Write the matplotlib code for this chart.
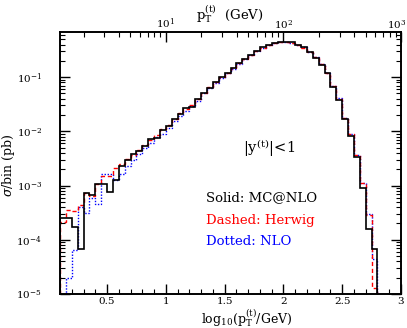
import numpy as np
import matplotlib
matplotlib.use('Agg')
import matplotlib.pyplot as plt
import matplotlib.transforms as mtransforms
from matplotlib.ticker import MultipleLocator, LogLocator, NullFormatter

plt.rcParams['font.family'] = ['DejaVu Serif']
plt.rcParams['mathtext.fontset'] = 'dejavuserif'

# bin edges in log10(pT/GeV)
edges = np.arange(0.10, 2.8001, 0.05)

mcatnlo = [2.5e-4, 2.5e-4, 1.75e-4, 6.9e-5, 7.2e-4, 6.7e-4, 1.05e-3, 1.05e-3,
           7.7e-4, 1.27e-3, 2.3e-3, 3.0e-3, 3.8e-3, 4.3e-3, 5.4e-3, 7.2e-3,
           7.6e-3, 1.05e-2, 1.23e-2, 1.66e-2, 2.1e-2, 2.65e-2, 2.8e-2, 4.0e-2,
           5.0e-2, 6.4e-2, 8.0e-2, 0.100, 0.117, 0.145, 0.179, 0.212,
           0.254, 0.305, 0.353, 0.389, 0.418, 0.436, 0.447, 0.436,
           0.389, 0.355, 0.290, 0.230, 0.168, 0.117, 0.066, 0.038,
           0.017, 8.3e-3, 3.3e-3, 9.0e-4, 1.6e-4, 6.9e-5]

herwig = [2.1e-4, 3.6e-4, 3.4e-4, 4.3e-4, 7.2e-4, 6.5e-4, 1.05e-3, 1.5e-3,
          1.5e-3, 2.1e-3, 2.5e-3, 3.1e-3, 3.7e-3, 4.6e-3, 5.6e-3, 7.0e-3,
          8.4e-3, 1.1e-2, 1.3e-2, 1.7e-2, 2.2e-2, 2.6e-2, 3.1e-2, 4.0e-2,
          5.2e-2, 6.5e-2, 8.0e-2, 0.101, 0.119, 0.146, 0.180, 0.214,
          0.255, 0.303, 0.350, 0.390, 0.420, 0.438, 0.448, 0.434,
          0.392, 0.350, 0.292, 0.232, 0.172, 0.120, 0.070, 0.040,
          0.018, 8.8e-3, 3.6e-3, 1.1e-3, 2.9e-4, 1.3e-5]

nlo = [3e-6, 2.0e-5, 6.5e-5, 4.1e-4, 3.1e-4, 5.9e-4, 4.6e-4, 1.6e-3,
       1.6e-3, 1.27e-3, 1.6e-3, 2.3e-3, 2.9e-3, 3.8e-3, 4.9e-3, 6.0e-3,
       7.8e-3, 9.0e-3, 1.15e-2, 1.55e-2, 1.9e-2, 2.4e-2, 2.9e-2, 3.7e-2,
       5.0e-2, 6.3e-2, 7.8e-2, 0.098, 0.118, 0.144, 0.178, 0.213,
       0.256, 0.304, 0.352, 0.389, 0.419, 0.437, 0.446, 0.435,
       0.391, 0.353, 0.293, 0.232, 0.172, 0.121, 0.070, 0.041,
       0.018, 9.0e-3, 3.7e-3, 1.1e-3, 3.0e-4, 4.5e-5]

top_ticks = [10, 100, 1000]
top_labels = [r'$10^{1}$', r'$10^{2}$', r'$10^{3}$']

fig = plt.figure(figsize=(4.07, 3.28), dpi=100)
ax = fig.add_axes([0.1474, 0.1037, 0.8379, 0.7987])

ax.stairs(nlo, edges, color='blue', lw=1.0, ls=(0, (1, 1.2)))
ax.stairs(herwig, edges, color='red', lw=1.0, ls=(0, (3, 2)))
ax.stairs(mcatnlo, edges, color='black', lw=1.2)

ax.set_yscale('log')
ax.set_xlim(0.1, 3.0)
ax.set_ylim(1e-5, 0.68)

ax.xaxis.set_major_locator(MultipleLocator(0.5))
ax.xaxis.set_minor_locator(MultipleLocator(0.1))
ax.xaxis.set_major_formatter(plt.FuncFormatter(lambda v, p: '%g' % v if v > 0.2 else ''))
ax.yaxis.set_major_locator(LogLocator(base=10, numticks=10))
ax.yaxis.set_minor_locator(LogLocator(base=10, subs=np.arange(2, 10), numticks=10))
ax.yaxis.set_minor_formatter(NullFormatter())
ax.tick_params(which='both', direction='in', right=True, labelsize=7.5)
ax.tick_params(axis='x', which='both', top=False, pad=2)
ax.tick_params(axis='y', which='both', pad=13)
ax.tick_params(which='major', length=7, width=1)
ax.tick_params(which='minor', length=3.5, width=0.8)

ax2 = ax.twiny()
ax2.set_xscale('log')
ax2.set_xlim(10**0.1, 10**3)
ax2.set_xticks(top_ticks)
ax2.set_xticklabels(top_labels)
ax2.xaxis.set_minor_locator(LogLocator(base=10, subs=np.arange(2, 10), numticks=10))
ax2.xaxis.set_minor_formatter(NullFormatter())
ax2.tick_params(which='both', direction='in', labelsize=7.5, pad=1)
ax2.tick_params(which='major', length=7, width=1)
ax2.tick_params(which='minor', length=3.5, width=0.8)
lab = ax2.get_xticklabels()[-1]
lab.set_transform(lab.get_transform() +
                  mtransforms.ScaledTranslation(-4 / 100, 0, fig.dpi_scale_trans))

for a in (ax, ax2):
    for s in a.spines.values():
        s.set_linewidth(1.2)

fig.text(0.020, 0.497, r'$\sigma$/bin (pb)', fontsize=9, rotation=90,
         ha='center', va='center')
fig.text(0.605, 0.031, r'log$_{10}$(p$_{\rm T}^{\rm (t)}$/GeV)', fontsize=9,
         ha='center', va='center')
fig.text(0.565, 0.958, r'p$_{\rm T}^{\rm (t)}$  (GeV)', fontsize=9.5,
         ha='center', va='center')

ax.text(0.537, 0.557, r'|y$^{\rm (t)}$|<1', transform=ax.transAxes,
        fontsize=10.5, va='center')
ax.text(0.428, 0.366, 'Solid: MC@NLO', transform=ax.transAxes,
        fontsize=9.5, va='center', color='black')
ax.text(0.428, 0.282, 'Dashed: Herwig', transform=ax.transAxes,
        fontsize=9.5, va='center', color='red')
ax.text(0.428, 0.202, 'Dotted: NLO', transform=ax.transAxes,
        fontsize=9.5, va='center', color='blue')

plt.savefig('out.png', dpi=100)
